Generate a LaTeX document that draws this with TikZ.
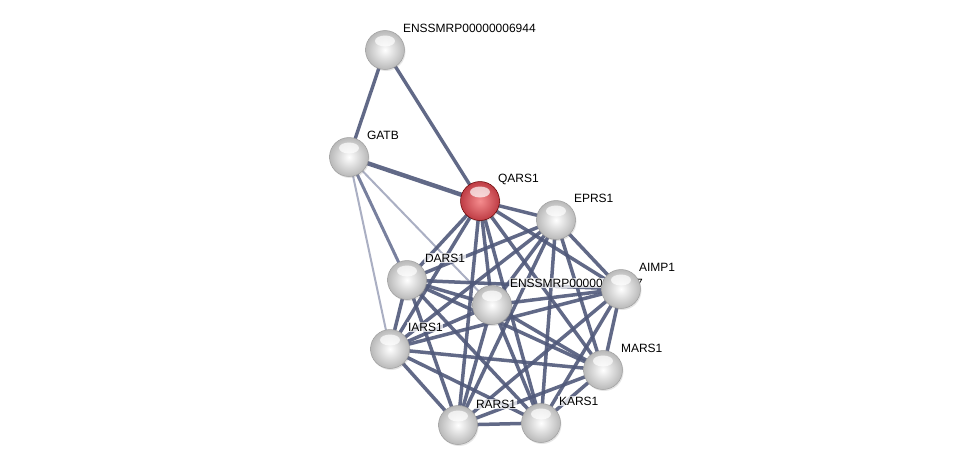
\documentclass[tikz,border=0pt]{standalone}
\usepackage{fontspec}
\setmainfont{Liberation Sans}
\usetikzlibrary{shadows}
\definecolor{edgedark}{RGB}{80,89,122}
\definecolor{edgemid}{RGB}{120,128,158}
\definecolor{edgelight}{RGB}{170,175,195}
\definecolor{qin}{RGB}{245,140,142}
\definecolor{qout}{RGB}{190,60,68}
\begin{document}
\begin{tikzpicture}[x=1pt,y=-1pt,
  prot/.style={circle,minimum size=39pt,inner sep=0pt,inner color=white,outer color=gray!55,draw=gray!75,line width=0.5pt,
    drop shadow={shadow xshift=1pt,shadow yshift=-1.5pt,opacity=0.2},
    path picture={\fill[white,fill opacity=0.7] ([yshift=9pt]path picture bounding box.center) ellipse [x radius=10pt, y radius=5.5pt];}},
  qprot/.style={prot,inner color=qin,outer color=qout,draw=red!40!black},
  lab/.style={anchor=west,font=\fontsize{12}{13}\selectfont,fill=white,fill opacity=0.75,text opacity=1,inner sep=0.8pt},
  ed/.style={draw=edgedark,line width=3.5pt,draw opacity=0.9},
  edmid/.style={draw=edgemid,line width=3pt},
  edlight/.style={draw=edgelight,line width=2pt}]
\useasboundingbox (0,0) rectangle (975,471);
\fill[white] (0,0) rectangle (975,471);
% coordinates
\coordinate (E1c) at (385,50);
\coordinate (GAc) at (349,157);
\coordinate (Qc) at (480,201);
\coordinate (EPc) at (556,220);
\coordinate (AIc) at (621,289);
\coordinate (Dc) at (407,280);
\coordinate (E2c) at (492,305);
\coordinate (Ic) at (390,349);
\coordinate (Mc) at (603,370);
\coordinate (Rc) at (458,425);
\coordinate (Kc) at (541,423);
% edges
\draw[ed,line width=3.4pt] (E1c) -- (GAc);
\draw[ed,line width=3.4pt] (E1c) -- (Qc);
\draw[ed,line width=4.4pt] (GAc) -- (Qc);
\draw[edlight] (GAc) -- (Ic);
\draw[edlight] (GAc) -- (E2c);
\draw[edmid] (GAc) -- (Dc);
\foreach \a/\b in {Qc/EPc,Qc/AIc,Qc/Dc,Qc/E2c,Qc/Ic,Qc/Mc,Qc/Rc,Qc/Kc,
  EPc/AIc,EPc/Dc,EPc/E2c,EPc/Ic,EPc/Mc,EPc/Rc,EPc/Kc,
  AIc/Dc,AIc/E2c,AIc/Ic,AIc/Mc,AIc/Rc,AIc/Kc,
  Dc/E2c,Dc/Ic,Dc/Mc,Dc/Rc,Dc/Kc,
  E2c/Ic,E2c/Mc,E2c/Rc,E2c/Kc,
  Ic/Mc,Ic/Rc,Ic/Kc,
  Mc/Rc,Mc/Kc,
  Rc/Kc}
  \draw[ed] (\a) -- (\b);
% labels
\node[lab] (lE1) at (402,28) {ENSSMRP00000006944};
\node[lab] (lGA) at (366,135) {GATB};
\node[lab] (lQ) at (497,179) {QARS1};
\node[lab] (lEP) at (573,198) {EPRS1};
\node[lab] (lAI) at (638,267) {AIMP1};
\node[lab] (lD) at (424,258) {DARS1};
\node[lab] (lE2) at (509,283) {ENSSMRP00000012717};
\node[lab] (lI) at (407,327) {IARS1};
\node[lab] (lM) at (620,348) {MARS1};
\node[lab] (lR) at (475,404) {RARS1};
\node[lab] (lK) at (558,401) {KARS1};
% nodes
\node[prot] (E1) at (E1c) {};
\node[prot] (GA) at (GAc) {};
\node[qprot] (Q) at (Qc) {};
\node[prot] (EP) at (EPc) {};
\node[prot] (D) at (Dc) {};
\node[prot] (E2) at (E2c) {};
\node[prot] (AI) at (AIc) {};
\node[prot] (I) at (Ic) {};
\node[prot] (M) at (Mc) {};
\node[prot] (R) at (Rc) {};
\node[prot] (K) at (Kc) {};
\end{tikzpicture}
\end{document}
